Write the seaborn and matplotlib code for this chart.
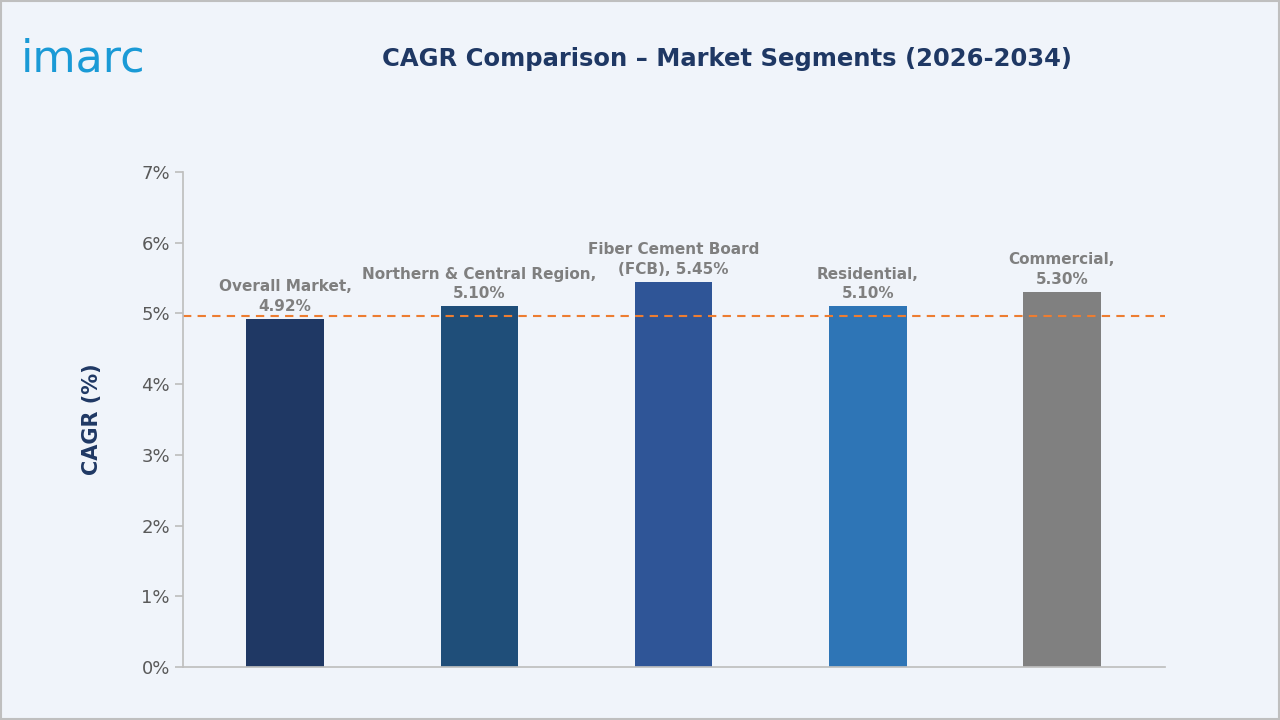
import matplotlib
matplotlib.use("Agg")
import matplotlib.pyplot as plt
import seaborn as sns
import pandas as pd
from matplotlib.patches import Rectangle

categories = ["Overall Market", "Northern & Central Region", "Fiber Cement Board (FCB)", "Residential", "Commercial"]
values = [4.92, 5.10, 5.45, 5.10, 5.30]
labels = ["Overall Market,\n4.92%", "Northern & Central Region,\n5.10%", "Fiber Cement Board\n(FCB), 5.45%", "Residential,\n5.10%", "Commercial,\n5.30%"]
colors = ["#1f3864", "#1f4e79", "#2f5597", "#2e75b6", "#808080"]
ref_line = 4.96
yticks = [0, 1, 2, 3, 4, 5, 6, 7]

sns.set_theme(style="white")
plt.rcParams['font.family'] = ['DejaVu Sans']
bg = "#f0f4fa"
fig = plt.figure(figsize=(12.8, 7.2), dpi=100, facecolor=bg)
ax = fig.add_axes([0.143, 0.0736, 0.767, 0.6875], facecolor=bg)
df = pd.DataFrame({"cat": categories, "val": values})
sns.barplot(data=df, x="cat", y="val", hue="cat", palette=colors, width=0.4, ax=ax, legend=False,
            saturation=1, edgecolor="none", linewidth=0)
ax.set_xlim(-0.526, 4.53)
ax.set_ylim(0, 7)
ax.set_yticks(yticks)
ax.set_yticklabels([f"{t}%" for t in yticks], fontsize=13, color="#595959")
ax.set_xticks([])
ax.set_xlabel("")
ax.set_ylabel("CAGR (%)", fontsize=15, fontweight="bold", color="#1f3864", labelpad=28)
ax.tick_params(axis="y", length=6, color="#bfbfbf", direction="out", left=True)
for s in ["top", "right"]:
    ax.spines[s].set_visible(False)
for s in ["left", "bottom"]:
    ax.spines[s].set_color("#bfbfbf")
ax.axhline(ref_line, color="#ed7d31", linestyle=(0, (4, 3)), linewidth=1.5)
for i, (v, l) in enumerate(zip(values, labels)):
    ax.text(i, v + 0.07, l, ha="center", va="bottom", fontsize=11, fontweight="bold", color="#7f7f7f", linespacing=1.4)
fig.text(0.568, 0.918, "CAGR Comparison – Market Segments (2026-2034)", ha="center", va="center",
         fontsize=17.5, fontweight="bold", color="#1f3864")
fig.text(0.016, 0.918, "imarc", ha="left", va="center", fontsize=32, color="#1a9ad6")
fig.patches.append(Rectangle((0.001, 0.001), 0.998, 0.998, transform=fig.transFigure, fill=False, edgecolor="#bfbfbf", linewidth=1.5))
fig.savefig("out.png", dpi=100, facecolor=bg)
